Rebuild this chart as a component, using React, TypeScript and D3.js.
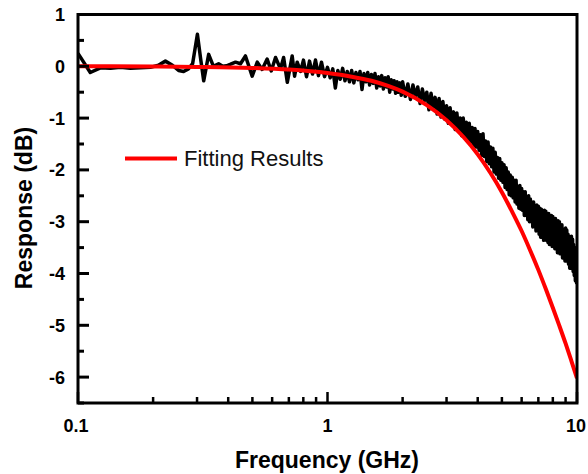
import React from "react";
import * as d3 from "d3";

// ---- Data ----
// Measured response, low-frequency part: [GHz, dB]
const measLow: [number, number][] = [
  [0.1, 0.25], [0.112, -0.12], [0.123, -0.03], [0.135, -0.04], [0.148, -0.02],
  [0.162, -0.04], [0.178, -0.03], [0.195, -0.02], [0.21, 0.02], [0.224, 0.1],
  [0.239, 0.02], [0.253, -0.08], [0.265, -0.1], [0.277, -0.05], [0.288, 0.05],
  [0.301, 0.62], [0.31, 0.15], [0.319, -0.28], [0.334, 0.23], [0.349, 0.0],
  [0.366, 0.05], [0.38, 0.0], [0.394, 0.01], [0.409, 0.04], [0.428, 0.08],
  [0.448, 0.05], [0.469, 0.2], [0.499, -0.19], [0.523, 0.08], [0.547, -0.06],
  [0.573, 0.14], [0.595, -0.09], [0.619, 0.17], [0.648, -0.05], [0.667, 0.17],
  [0.69, -0.31], [0.722, 0.2], [0.738, -0.19], [0.756, 0.08], [0.78, -0.1],
  [0.801, 0.12], [0.824, -0.2], [0.847, 0.1], [0.871, -0.15], [0.895, 0.12],
  [0.92, -0.18], [0.946, 0.08], [0.973, -0.2],
];

// Measured response 1.000 .. 1.975 GHz, every 0.025 GHz
const midStart = 1.0;
const midStep = 0.025;
const measMidDb = [
  -0.02, -0.22, -0.05, -0.42, -0.08, -0.25, -0.04, -0.28, -0.1, -0.3,
  -0.08, -0.32, -0.12, -0.26, -0.1, -0.45, -0.14, -0.3, -0.12, -0.36,
  -0.16, -0.33, -0.14, -0.42, -0.2, -0.38, -0.18, -0.44, -0.22, -0.4,
  -0.2, -0.5, -0.26, -0.44, -0.28, -0.52, -0.3, -0.5, -0.32, -0.56,
];

// Measured response 2.00 .. 10.00 GHz, every 0.05 GHz
const highStart = 2.0;
const highStep = 0.05;
const measHighDb = [
  -0.30, -0.58, -0.34, -0.64, -0.36, -0.58, -0.40, -0.72, -0.44, -0.66,
  -0.50, -0.84, -0.52, -0.80, -0.60, -0.92, -0.62, -0.98, -0.68, -1.02,
  -0.76, -1.10, -0.80, -1.12, -0.88, -1.22, -0.90, -1.24, -1.00, -1.34,
  -1.00, -1.36, -1.08, -1.42, -1.10, -1.46, -1.18, -1.54, -1.20, -1.56,
  -1.26, -1.62, -1.32, -1.72, -1.30, -1.74, -1.44, -1.84, -1.46, -1.88,
  -1.56, -1.94, -1.58, -2.04, -1.66, -2.08, -1.76, -2.16, -1.78, -2.20,
  -1.86, -2.24, -1.90, -2.34, -1.96, -2.38, -2.04, -2.48, -2.10, -2.50,
  -2.14, -2.54, -2.20, -2.62, -2.20, -2.66, -2.32, -2.74, -2.30, -2.76,
  -2.36, -2.78, -2.42, -2.88, -2.42, -2.88, -2.52, -2.96, -2.50, -3.00,
  -2.56, -3.00, -2.62, -3.10, -2.62, -3.08, -2.72, -3.18, -2.68, -3.16,
  -2.70, -3.24, -2.74, -3.30, -2.76, -3.28, -2.82, -3.36, -2.78, -3.32,
  -2.80, -3.36, -2.86, -3.40, -2.84, -3.44, -2.92, -3.44, -2.88, -3.48,
  -2.90, -3.46, -2.96, -3.52, -2.94, -3.52, -3.02, -3.60, -2.98, -3.56,
  -3.00, -3.62, -3.06, -3.62, -3.06, -3.70, -3.16, -3.70, -3.14, -3.76,
  -3.12, -3.74, -3.16, -3.76, -3.24, -3.82, -3.28, -3.90, -3.34, -3.88,
  -3.28, -3.90, -3.34, -3.96, -3.44, -4.04, -3.50, -4.14, -3.60, -4.18,
  -3.90,
];

// Fitting result curve
const fitFreq = [0.1, 0.2, 0.3, 0.5, 0.7, 1, 1.25, 1.5, 1.75, 2, 2.5, 3, 3.5, 4, 4.5, 5, 5.5, 6, 6.5, 7, 7.5, 8, 8.5, 9, 9.5, 10];
const fitDb = [0, -0.005, -0.012, -0.032, -0.063, -0.13, -0.2, -0.28, -0.38, -0.49, -0.75, -1.04, -1.36, -1.7, -2.06, -2.43, -2.81, -3.18, -3.56, -3.93, -4.3, -4.66, -5.01, -5.35, -5.69, -6.02];

const yTickValues = [-6, -5, -4, -3, -2, -1, 0, 1];
const xLabelValues = [0.1, 1, 10];
const legendLabel = "Fitting Results";
const xTitle = "Frequency (GHz)";
const yTitle = "Response (dB)";

export default function App() {
  const W = 588;
  const H = 474;
  const left = 78, right = 577, top = 14.5, bottom = 403;

  const x = d3.scaleLog().domain([0.1, 10]).range([left, right]);
  const y = d3.scaleLinear().domain([-6.5, 1]).range([bottom, top]);

  const meas: [number, number][] = [
    ...measLow,
    ...measMidDb.map((v, i) => [midStart + i * midStep, v] as [number, number]),
    ...measHighDb.map((v, i) => [highStart + i * highStep, v] as [number, number]),
  ];
  const fit: [number, number][] = fitFreq.map((f, i) => [f, fitDb[i]]);

  const measLine = d3.line<[number, number]>().x((d) => x(d[0])).y((d) => y(d[1]));
  const fitLine = d3
    .line<[number, number]>()
    .x((d) => x(d[0]))
    .y((d) => y(d[1]))
    .curve(d3.curveMonotoneX);

  const xMinor = x.ticks();
  const yMinor = d3.range(-6.5, 1.01, 0.5);

  const font = "'Liberation Sans', Arial, Helvetica, sans-serif";

  return (
    <svg
      width={W}
      height={H}
      style={{ position: "absolute", left: 0, top: 0, background: "#fff" }}
      fontFamily={font}
    >
      <defs>
        <clipPath id="plotClip">
          <rect x={left} y={top} width={right - left} height={bottom - top} />
        </clipPath>
      </defs>
      <rect width={W} height={H} fill="#fff" />
      <g clipPath="url(#plotClip)">
        <path d={measLine(meas) || ""} fill="none" stroke="#000" strokeWidth={3.5} strokeLinejoin="round" />
        <path d={fitLine(fit) || ""} fill="none" stroke="#ff0000" strokeWidth={4} />
      </g>
      {/* y ticks */}
      {yMinor.map((v) => {
        const isMajor = Math.abs(v - Math.round(v)) < 1e-6;
        return (
          <line key={"ym" + v} x1={left} x2={left + (isMajor ? 11 : 6)} y1={y(v)} y2={y(v)} stroke="#000" strokeWidth={3} />
        );
      })}
      {/* x ticks */}
      {xMinor.map((v, i) => {
        const isMajor = xLabelValues.some((m) => Math.abs(m - v) < 1e-9);
        return (
          <line key={"xm" + i} x1={x(v)} x2={x(v)} y1={bottom} y2={bottom - (isMajor ? 11 : 6)} stroke="#000" strokeWidth={2.5} />
        );
      })}
      {/* frame */}
      <rect x={left} y={top} width={right - left} height={bottom - top} fill="none" stroke="#000" strokeWidth={3} />
      {/* y labels */}
      {yTickValues.map((v) => (
        <text key={"yl" + v} x={65} y={y(v)} dy="0.36em" textAnchor="end" fontSize={18} fontWeight="bold">
          {v}
        </text>
      ))}
      {/* x labels */}
      {xLabelValues.map((v, i) => (
        <text key={"xl" + v} x={x(v) + (i === 0 ? -2 : i === 2 ? -1 : 0)} y={432} textAnchor="middle" fontSize={18} fontWeight="bold">
          {String(v)}
        </text>
      ))}
      {/* axis titles */}
      <text x={327} y={468} textAnchor="middle" fontSize={23} fontWeight="bold">
        {xTitle}
      </text>
      <text transform={`translate(32,208) rotate(-90)`} textAnchor="middle" fontSize={23} fontWeight="bold">
        {yTitle}
      </text>
      {/* legend */}
      <line x1={125} x2={177} y1={158.5} y2={158.5} stroke="#ff0000" strokeWidth={4} />
      <text x={184} y={166} fontSize={22} fill="#111">
        {legendLabel}
      </text>
    </svg>
  );
}
